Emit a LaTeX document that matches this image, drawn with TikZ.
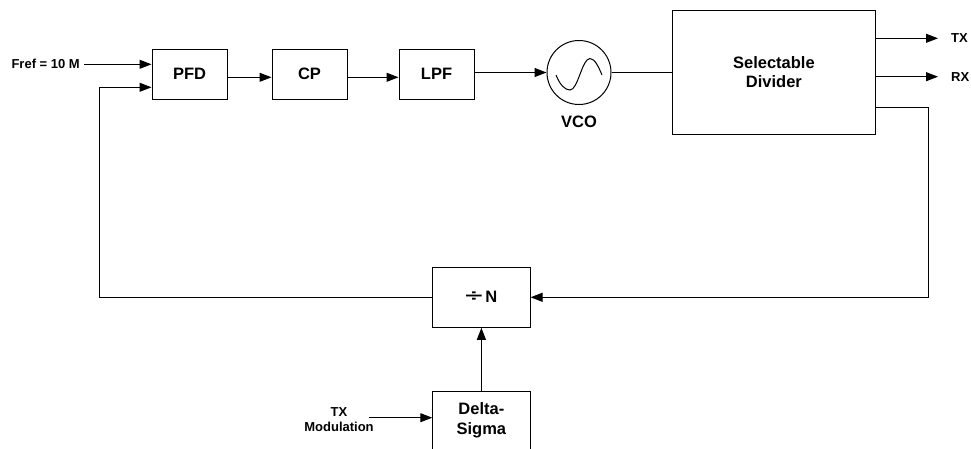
\documentclass[tikz,border=0pt]{standalone}
\usepackage{fontspec}
\setmainfont{Liberation Sans}
\usetikzlibrary{arrows.meta}
\tikzset{
  blk/.style={draw=black, line width=1pt, rectangle, minimum width=75pt, minimum height=50pt, inner sep=0pt, font=\fontsize{16.5}{19.5}\selectfont\bfseries, align=center},
  lbl/.style={inner sep=0pt, font=\fontsize{13}{15}\selectfont\bfseries, align=center},
  conn/.style={draw=black, line width=1pt},
  arr/.style={conn, -{Triangle[length=12pt,width=9pt]}},
}
\begin{document}
\begin{tikzpicture}[x=1pt,y=-1pt]
\useasboundingbox (0,0) rectangle (971,449);
% blocks
\node[blk] (pfd) at (189.5,74.3) {PFD};
\node[blk] (cp) at (309.5,74.3) {CP};
\node[blk] (lpf) at (436.5,74.3) {LPF};
\node[draw=black, line width=1pt, circle, minimum size=64pt, inner sep=0pt] (vco) at (579,72.5) {};
\draw[line width=1pt] (556,75) .. controls (560,85) and (565,90) .. (570,90)
  .. controls (578,90) and (582,58.5) .. (590,58.5)
  .. controls (595,58.5) and (599,68) .. (602,75);
\node[lbl, font=\fontsize{16.5}{19.5}\selectfont\bfseries] (vcol) at (579,121.7) {VCO};
\node[blk, minimum width=202.3pt, minimum height=124.3pt] (div) at (773.9,72.2) {Selectable\\Divider};
\node[blk, minimum width=97.3pt, minimum height=60pt] (divn) at (481.4,297.3) {\raisebox{1pt}{\scalebox{1.9}[1]{÷}}\,N};
\node[blk, minimum width=97.3pt, minimum height=59pt] (ds) at (481.4,420.5) {Delta-\\Sigma};
% labels
\node[lbl, anchor=east] (fref) at (80,64.3) {Fref = 10 M};
\node[lbl, anchor=west] (tx) at (951,38.3) {TX};
\node[lbl, anchor=west] (rx) at (951,76.7) {RX};
\node[lbl, font=\fontsize{13}{15.5}\selectfont\bfseries] (txm) at (339,419.5) {TX\\Modulation};
\coordinate (fbr) at (928,297.3);
\coordinate (fbl) at (99.3,87.3);
\coordinate (txs) at (369,417.7);
% connectors
\draw[arr] (fref.east) ++(4,0) coordinate (frefs) -- (frefs -| pfd.west);
\draw[arr] ([yshift=-3pt]pfd.east) -- ([yshift=-3pt]cp.west);
\draw[arr] ([yshift=-3pt]cp.east) -- ([yshift=-3pt]lpf.west);
\draw[arr] (lpf.east |- vco.west) -- (vco.west);
\draw[conn] (vco.east) -- (vco.east -| div.west);
\draw[arr] (div.east |- tx.west) -- ([xshift=-13pt]tx.west);
\draw[arr] (div.east |- rx.west) -- ([xshift=-13pt]rx.west);
\draw[arr] (div.east |- 0,107.3) -| (fbr) -- (divn.east);
\draw[arr] (divn.west) -| (fbl) -- (fbl -| pfd.west);
\draw[arr] (ds.north) -- (divn.south);
\draw[arr] (txs) -- (txs -| ds.west);
\end{tikzpicture}
\end{document}
